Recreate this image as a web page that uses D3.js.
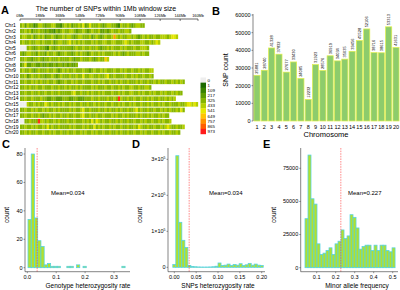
<!DOCTYPE html>
<html>
<head>
<meta charset="utf-8">
<script src="https://cdn.jsdelivr.net/npm/d3@7"></script>
<style>
  body { margin: 0; background: #fff; }
  svg { display: block; font-family: "Liberation Sans", Arial, sans-serif; }
</style>
</head>
<body>
<svg width="400" height="290"></svg>
<script>
// ---- panel A: SNPs per 1Mb window, one char per 2Mb window ('-' = no SNP)
const chrNames = d3.range(1, 21).map((i) => "Chr" + i);
const windowCodes = [
  "3424331244 3233442213 4342334352 3533343234 4332143343 234433",
  "3343423343 3232213234 3344323343 2343342232 3433433443",
  "3443342343 4233432334 3443234433 3423432343 3474343344 3432343433 4334443455 4",
  "3433433443 4333423443 3453434343 3343433443 3443334543 4333443343 454",
  "---3432343 3214323433 3332343343 3433432334 3433343433 34334443",
  "3234433243 3243343233 4332343433 2343343433 3343432343 33443433",
  "3343323343 2334333433 3343233433 3432343364",
  "2352233223 2232232332 323223",
  "3433432343 3343343234 3433433343 3234334343 3343343433 4334343344",
  "3342343343 3233432343 3343343353 3443343345 3343333433 4343343343",
  "3343343434 3343343233 4334343343 3343343433 4334343343 3343433433 4343343343 4343",
  "3343433433 4333433433 4343343433 3343433343 3433434334 433433443",
  "3343343343 3433433433 3334533433 4343343433 3433434334 4334343343 4334343343 433",
  "3343343334 3322332223 3322332223 3343343334 3343943343 3433433434 3343343434",
  "---4334343 3543433434 3343433433 4334343343 3433434334 3433433434 3343433433 3433455454",
  "3343343433 4343343433 3343433453 3433343343 4334343343 3453433433 4334343433 4353",
  "3343343343 2334343343 3433433453 3433433433 3434334343 3343433434 3343433",
  "--33433394 4343343433 3433433343 4353543433 4334343343 3433434334 33434334",
  "3343343433 4353433433 3343433343 4335343433 4343343343 3435433433 4334345433 4334",
  "3343433433 4334343343 3433433434 3343433433 4334343343 3433434334 3343433433 43"
];
const windowMb = 2;
const mbTicks = [0, 18, 36, 54, 72, 90, 108, 126, 144, 160];
const legendValues = [0, 1, 109, 217, 325, 433, 541, 649, 757, 865, 973];
const legendColors = ["#eeeeee", "#1c6a00", "#3a8300", "#5e9c00", "#86b500", "#b4cf00",
  "#e8e800", "#ffc400", "#ff9200", "#ff5e00", "#ff1c1c"];

// ---- panel B
const chromosomes = d3.range(1, 21);
const snpCounts = [25881, 28740, 41328, 37832, 27677, 33430, 24085, 12232, 31923, 28576,
  36919, 34034, 35035, 39456, 45528, 52106, 38716, 38615, 53313, 41631];
const countTicks = [0, 10000, 20000, 30000, 40000, 50000, 60000];

// ---- panels C, D, E (histogram bins: first left edge, bin width, counts)
const genoHetStart = 0.0024, genoHetWidth = 0.0112;
const genoHetCounts = [34, 80, 35, 19, 15, 2, 3, 1, 1, 1, 0, 0, 1, 1, 0, 2, 0, 1, 0, 0,
  0, 0, 0, 0, 0, 0, 0, 0, 0, 1];
const genoHetMean = 0.034;

const snpHetStart = -0.00345, snpHetWidth = 0.0069;
const snpHetCounts = [8000, 310000, 125000, 75000, 55000, 5000, 2500, 1500, 1000, 800,
  700, 800, 1000, 1500, 3000, 12000, 5000, 6000, 9000, 5000,
  8000, 6000, 10000, 5000, 7000, 11000, 6000, 9000, 6000, 5000];
const snpHetMean = 0.034;

const mafStart = 0.0384, mafWidth = 0.0158;
const mafCounts = [37000, 85000, 52000, 48000, 18000, 10000, 11000, 13000, 15000, 10000,
  18000, 20000, 28500, 22000, 24000, 40000, 38000, 30000, 14000, 16000,
  17000, 17000, 13000, 17000, 13000, 17000, 17000, 13000, 12000, 15000];
const mafMean = 0.227;

const svg = d3.select("svg");
const axisColor = "#333";

function panelLetter(t, x, y) {
  svg.append("text").attr("x", x).attr("y", y).text(t)
    .attr("font-size", 11).attr("font-weight", "bold");
}

// ================= A =================
panelLetter("A", 1, 14);
const xMb = d3.scaleLinear().domain([0, 160]).range([20, 198]);
const yChr = d3.scaleBand().domain(chrNames).range([23.2, 134.8]).paddingInner(0.18);
const heat = d3.scaleLinear().domain(legendValues.slice(1)).range(legendColors.slice(1)).clamp(true);

svg.append("text").attr("x", 106).attr("y", 11).attr("text-anchor", "middle")
  .attr("font-size", 7).text("The number of SNPs within 1Mb window size");

const axA = svg.append("g");
axA.append("line").attr("x1", xMb(0)).attr("x2", xMb(160)).attr("y1", 19).attr("y2", 19)
  .attr("stroke", "#000").attr("stroke-width", 0.6);
axA.selectAll("line.t").data(mbTicks).enter().append("line").attr("class", "t")
  .attr("x1", (d) => xMb(d)).attr("x2", (d) => xMb(d)).attr("y1", 19).attr("y2", 21)
  .attr("stroke", "#000").attr("stroke-width", 0.5);
axA.selectAll("text").data(mbTicks).enter().append("text")
  .attr("x", (d) => xMb(d)).attr("y", 17).attr("text-anchor", "middle")
  .attr("font-size", 3.8).text((d) => d + "Mb");

const cells = [];
windowCodes.forEach((code, ci) => {
  code.replace(/ /g, "").split("").forEach((ch, wi) => {
    cells.push({ chr: chrNames[ci], start: wi * windowMb, value: ch === "-" ? 0 : +ch * 100 + 30 });
  });
});

svg.append("g").selectAll("rect").data(cells).enter().append("rect")
  .attr("x", (d) => xMb(d.start))
  .attr("y", (d) => yChr(d.chr))
  .attr("width", xMb(windowMb) - xMb(0) + 0.15)
  .attr("height", yChr.bandwidth())
  .attr("fill", (d) => (d.value === 0 ? legendColors[0] : heat(d.value)));

svg.append("g").selectAll("text").data(chrNames).enter().append("text")
  .attr("x", 5).attr("y", (d) => yChr(d) + yChr.bandwidth() / 2)
  .attr("dy", "0.35em").attr("font-size", 5).text((d) => d);

// legend
const legY = d3.scaleBand().domain(legendValues).range([77.5, 134]);
const leg = svg.append("g");
leg.selectAll("rect").data(legendValues).enter().append("rect")
  .attr("x", 200.5).attr("y", (d) => legY(d)).attr("width", 5.5).attr("height", legY.bandwidth() + 0.2)
  .attr("fill", (d, i) => legendColors[i]);
leg.selectAll("text").data(legendValues).enter().append("text")
  .attr("x", 207.5).attr("y", (d) => legY(d) + legY.bandwidth() / 2).attr("dy", "0.35em")
  .attr("font-size", 4.4).text((d) => d);

// ================= B =================
panelLetter("B", 212, 15);
const xB = d3.scalePoint().domain(chromosomes).range([257, 396]);
const yB = d3.scaleLinear().domain([0, 60000]).range([121, 15]);
const barW = xB.step() * 0.84;

const gB = svg.append("g");
gB.selectAll("rect").data(chromosomes).enter().append("rect")
  .attr("x", (d) => xB(d) - barW / 2)
  .attr("y", (d, i) => yB(snpCounts[i]))
  .attr("width", barW)
  .attr("height", (d, i) => yB(0) - yB(snpCounts[i]))
  .attr("fill", "#8dcc6c").attr("stroke", "#e2f04a").attr("stroke-width", 0.7);

const lab = gB.selectAll("g.lab").data(chromosomes).enter().append("g").attr("class", "lab")
  .attr("transform", (d, i) => `translate(${xB(d)},${yB(snpCounts[i]) - 1}) rotate(-90)`);
lab.append("rect").attr("x", 0).attr("y", -2.3).attr("width", 11.8).attr("height", 4.6).attr("fill", "#fff");
lab.append("text").attr("x", 0.6).attr("y", 0).attr("dy", "0.35em").attr("font-size", 4)
  .text((d, i) => snpCounts[i]);

gB.append("line").attr("x1", 253).attr("x2", 253).attr("y1", 14).attr("y2", 121)
  .attr("stroke", axisColor).attr("stroke-width", 0.6);
gB.selectAll("line.yt").data(countTicks).enter().append("line").attr("class", "yt")
  .attr("x1", 251.5).attr("x2", 253).attr("y1", (d) => yB(d)).attr("y2", (d) => yB(d))
  .attr("stroke", axisColor).attr("stroke-width", 0.5);
gB.selectAll("text.yl").data(countTicks).enter().append("text").attr("class", "yl")
  .attr("x", 250.5).attr("y", (d) => yB(d)).attr("dy", "0.35em").attr("text-anchor", "end")
  .attr("font-size", 5.5).text((d) => d);
gB.selectAll("text.xl").data(chromosomes).enter().append("text").attr("class", "xl")
  .attr("x", (d) => xB(d)).attr("y", 129).attr("text-anchor", "middle")
  .attr("font-size", 5.5).text((d) => d);
gB.append("text").attr("x", 326).attr("y", 136.5).attr("text-anchor", "middle")
  .attr("font-size", 7.5).text("Chromosome");
gB.append("text").attr("transform", "translate(228,70) rotate(-90)").attr("text-anchor", "middle")
  .attr("font-size", 7).text("SNP count");

// ================= C, D, E =================
function drawHist(cfg) {
  const g = svg.append("g");
  const x = d3.scaleLinear().domain(cfg.xDomain).range(cfg.xRange);
  const y = d3.scaleLinear().domain(cfg.yDomain).range(cfg.yRange);
  const bins = cfg.counts.map((c, i) => ({ x0: cfg.start + i * cfg.width, x1: cfg.start + (i + 1) * cfg.width, c }));

  g.selectAll("rect").data(bins).enter().append("rect")
    .attr("x", (d) => x(d.x0)).attr("width", (d) => x(d.x1) - x(d.x0))
    .attr("y", (d) => y(d.c)).attr("height", (d) => y(0) - y(d.c))
    .attr("fill", "#b2e02e").attr("stroke", "#52d2e6").attr("stroke-width", 0.75);

  g.append("line").attr("x1", x(cfg.mean)).attr("x2", x(cfg.mean)).attr("y1", cfg.top).attr("y2", cfg.axisY)
    .attr("stroke", "#ff4040").attr("stroke-width", 0.6).attr("stroke-dasharray", "1.6,1");

  g.append("text").attr("x", cfg.meanX).attr("y", 195).attr("font-size", 6)
    .text("Mean=" + cfg.mean);

  // axes
  g.append("line").attr("x1", cfg.axisX).attr("x2", cfg.axisX).attr("y1", cfg.top).attr("y2", cfg.axisY)
    .attr("stroke", axisColor).attr("stroke-width", 0.6);
  g.append("line").attr("x1", cfg.axisX).attr("x2", cfg.right).attr("y1", cfg.axisY).attr("y2", cfg.axisY)
    .attr("stroke", axisColor).attr("stroke-width", 0.6);

  g.selectAll("line.xt").data(cfg.xTicks).enter().append("line").attr("class", "xt")
    .attr("x1", (d) => x(d)).attr("x2", (d) => x(d)).attr("y1", cfg.axisY).attr("y2", cfg.axisY + 1.5)
    .attr("stroke", axisColor).attr("stroke-width", 0.5);
  g.selectAll("text.xl").data(cfg.xTicks).enter().append("text").attr("class", "xl")
    .attr("x", (d) => x(d)).attr("y", cfg.axisY + 7).attr("text-anchor", "middle")
    .attr("font-size", 5.5).text(cfg.fmtX);

  g.selectAll("line.yt").data(cfg.yTicks).enter().append("line").attr("class", "yt")
    .attr("x1", cfg.axisX - 1.5).attr("x2", cfg.axisX).attr("y1", (d) => y(d)).attr("y2", (d) => y(d))
    .attr("stroke", axisColor).attr("stroke-width", 0.5);
  const yl = g.selectAll("text.yl").data(cfg.yTicks).enter().append("text").attr("class", "yl")
    .attr("x", cfg.axisX - 2.5).attr("y", (d) => y(d)).attr("dy", "0.35em")
    .attr("text-anchor", "end").attr("font-size", 5.5);
  if (cfg.sci) {
    yl.each(function (d) {
      const t = d3.select(this);
      if (d === 0) { t.text("0"); return; }
      t.append("tspan").text(d / 1e5 + "\u00d710");
      t.append("tspan").attr("font-size", 3.5).attr("dy", "-2").text("5");
    });
  } else {
    yl.text((d) => d);
  }

  g.append("text").attr("x", cfg.titleX).attr("y", 287.5).attr("text-anchor", "middle")
    .attr("font-size", 6.5).text(cfg.title);
  g.append("text").attr("transform", `translate(${cfg.countX},215) rotate(-90)`)
    .attr("text-anchor", "middle").attr("font-size", 6.5).text("count");
}

panelLetter("C", 2, 148);
drawHist({
  counts: genoHetCounts, start: genoHetStart, width: genoHetWidth, mean: genoHetMean,
  xDomain: [0, 0.3], xRange: [27.3, 114], yDomain: [0, 80], yRange: [267.7, 154],
  xTicks: [0, 0.1, 0.2, 0.3], yTicks: [0, 20, 40, 60, 80], fmtX: d3.format(".1f"),
  axisX: 25, axisY: 271.7, top: 148, right: 130, meanX: 51,
  title: "Genotype heterozygosity rate", titleX: 88, countX: 9
});

panelLetter("D", 132, 148);
drawHist({
  counts: snpHetCounts, start: snpHetStart, width: snpHetWidth, mean: snpHetMean,
  xDomain: [0, 0.2], xRange: [174.3, 261.7], yDomain: [0, 300000], yRange: [267.3, 159.3],
  xTicks: [0, 0.05, 0.1, 0.15, 0.2], yTicks: [0, 100000, 200000, 300000], fmtX: d3.format(".2f"),
  axisX: 168, axisY: 271.7, top: 148, right: 265, meanX: 209, sci: true,
  title: "SNPs heterozygosity rate", titleX: 218, countX: 142
});

panelLetter("E", 263, 148);
drawHist({
  counts: mafCounts, start: mafStart, width: mafWidth, mean: mafMean,
  xDomain: [0.1, 0.5], xRange: [316.7, 392.7], yDomain: [0, 75000], yRange: [267.7, 168.3],
  xTicks: [0.1, 0.2, 0.3, 0.4, 0.5], yTicks: [0, 25000, 50000, 75000], fmtX: d3.format(".1f"),
  axisX: 300.7, axisY: 271.7, top: 148, right: 398, meanX: 348,
  title: "Minor allele frequency", titleX: 357, countX: 276
});
</script>
</body>
</html>
